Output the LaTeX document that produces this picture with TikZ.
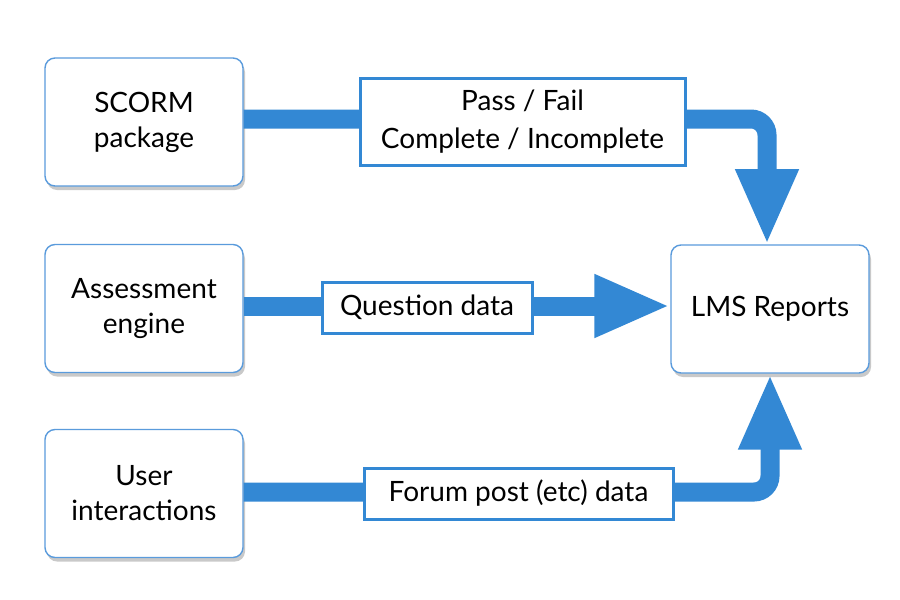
\documentclass[tikz,border=0pt]{standalone}
\usepackage{fontspec}
\setmainfont{Lato}
\usetikzlibrary{arrows.meta,shadows}
\definecolor{flow}{HTML}{3388D4}
\definecolor{edge}{HTML}{5A9BDC}
\tikzset{
  srcbox/.style={draw=edge, line width=1.4pt, fill=white, rounded corners=10pt,
    minimum width=198pt, minimum height=128pt, inner sep=0pt, align=center,
    font=\fontsize{28}{35}\selectfont,
    drop shadow={shadow xshift=2pt, shadow yshift=-4pt, opacity=0.35, fill=black!60}},
  lblbox/.style={draw=flow, line width=3pt, fill=white, inner sep=0pt, align=center,
    font=\fontsize{28}{38}\selectfont},
  flowline/.style={draw=flow, line width=19pt, rounded corners=16pt,
    -{Triangle[width=58pt,length=76pt]}},
}
\begin{document}
\begin{tikzpicture}[x=1pt,y=-1pt]
\path[use as bounding box, fill=white] (0,0) rectangle (900,600);
\node[srcbox] (scorm) at (144,122) {SCORM\\package};
\node[srcbox] (assess) at (144,308.5) {Assessment\\engine};
\node[srcbox] (user) at (144,493.5) {User\\interactions};
\node[srcbox] (lms) at (770,309) {LMS Reports};
\coordinate (topturn) at (767,119);
\draw[flowline] (scorm.east |- topturn) -- (topturn) -- (767,245);
\draw[flowline] (assess.east |- 0,306) -- (lms.west |- 0,306);
\coordinate (botturn) at (770,492);
\draw[flowline] (user.east |- botturn) -- (botturn) -- (lms.south);
\node[lblbox, minimum width=325pt, minimum height=87pt] (pf) at (522.5,121.5) {Pass / Fail\\Complete / Incomplete};
\node[lblbox, minimum width=210pt, minimum height=51pt] (qd) at (427,307.5) {Question data};
\node[lblbox, minimum width=309pt, minimum height=51pt] (fp) at (518.5,493.5) {Forum post (etc) data};
\end{tikzpicture}
\end{document}
